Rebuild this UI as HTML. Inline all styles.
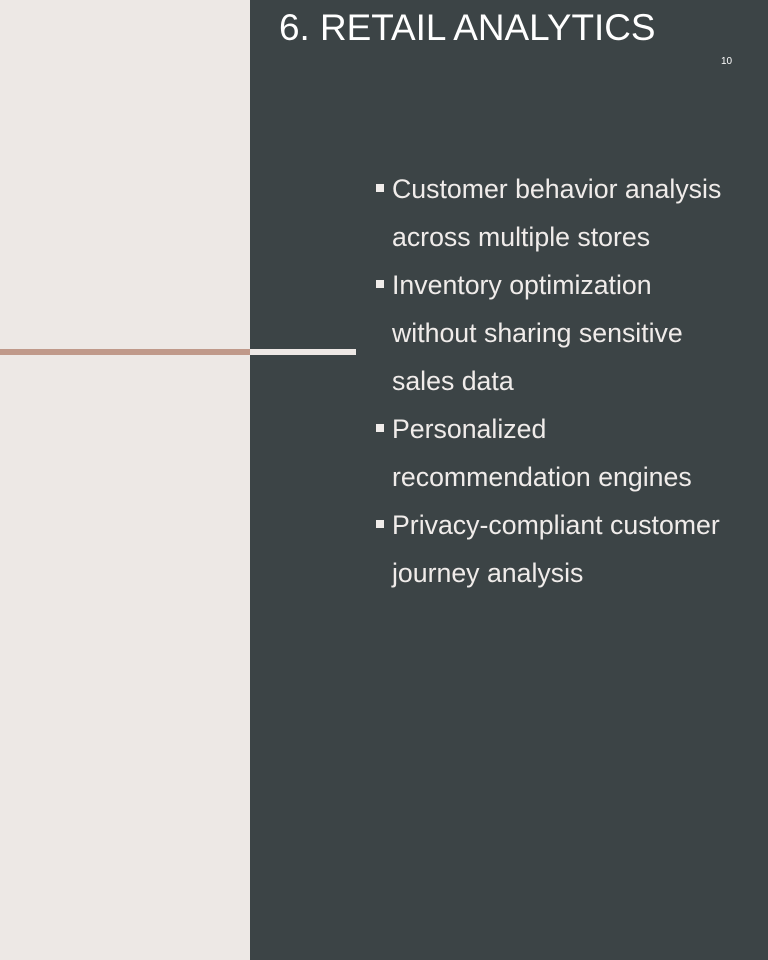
<!DOCTYPE html>
<html><head><style>
body{margin:0;width:768px;height:960px;position:relative;overflow:hidden;background:#3c4446;font-family:"Liberation Sans",sans-serif;}
.left{position:absolute;left:0;top:0;width:250px;height:960px;background:#ede8e5;}
.l1{position:absolute;left:0;top:349px;width:250px;height:6px;background:#c0998a;}
.l2{position:absolute;left:250px;top:349px;width:106px;height:6px;background:#ede8e5;}
.title{position:absolute;left:279px;top:7px;font-size:36.9px;color:#fff;white-space:nowrap;}
.num{position:absolute;left:721px;top:56px;font-size:10px;color:#fff;}
.txt{position:absolute;left:392px;top:165px;font-size:26.7px;line-height:48px;color:#f0ecea;white-space:nowrap;}
.b{position:absolute;left:376px;width:8px;height:8px;background:#f0ecea;}
</style></head><body>
<div class="left"></div><div class="l1"></div><div class="l2"></div>
<div class="title">6. RETAIL ANALYTICS</div>
<div class="num">10</div>
<div class="b" style="top:184px"></div>
<div class="b" style="top:280px"></div>
<div class="b" style="top:424px"></div>
<div class="b" style="top:520px"></div>
<div class="txt">Customer behavior analysis<br>across multiple stores<br>Inventory optimization<br>without sharing sensitive<br>sales data<br>Personalized<br>recommendation engines<br>Privacy-compliant customer<br>journey analysis</div>
</body></html>
